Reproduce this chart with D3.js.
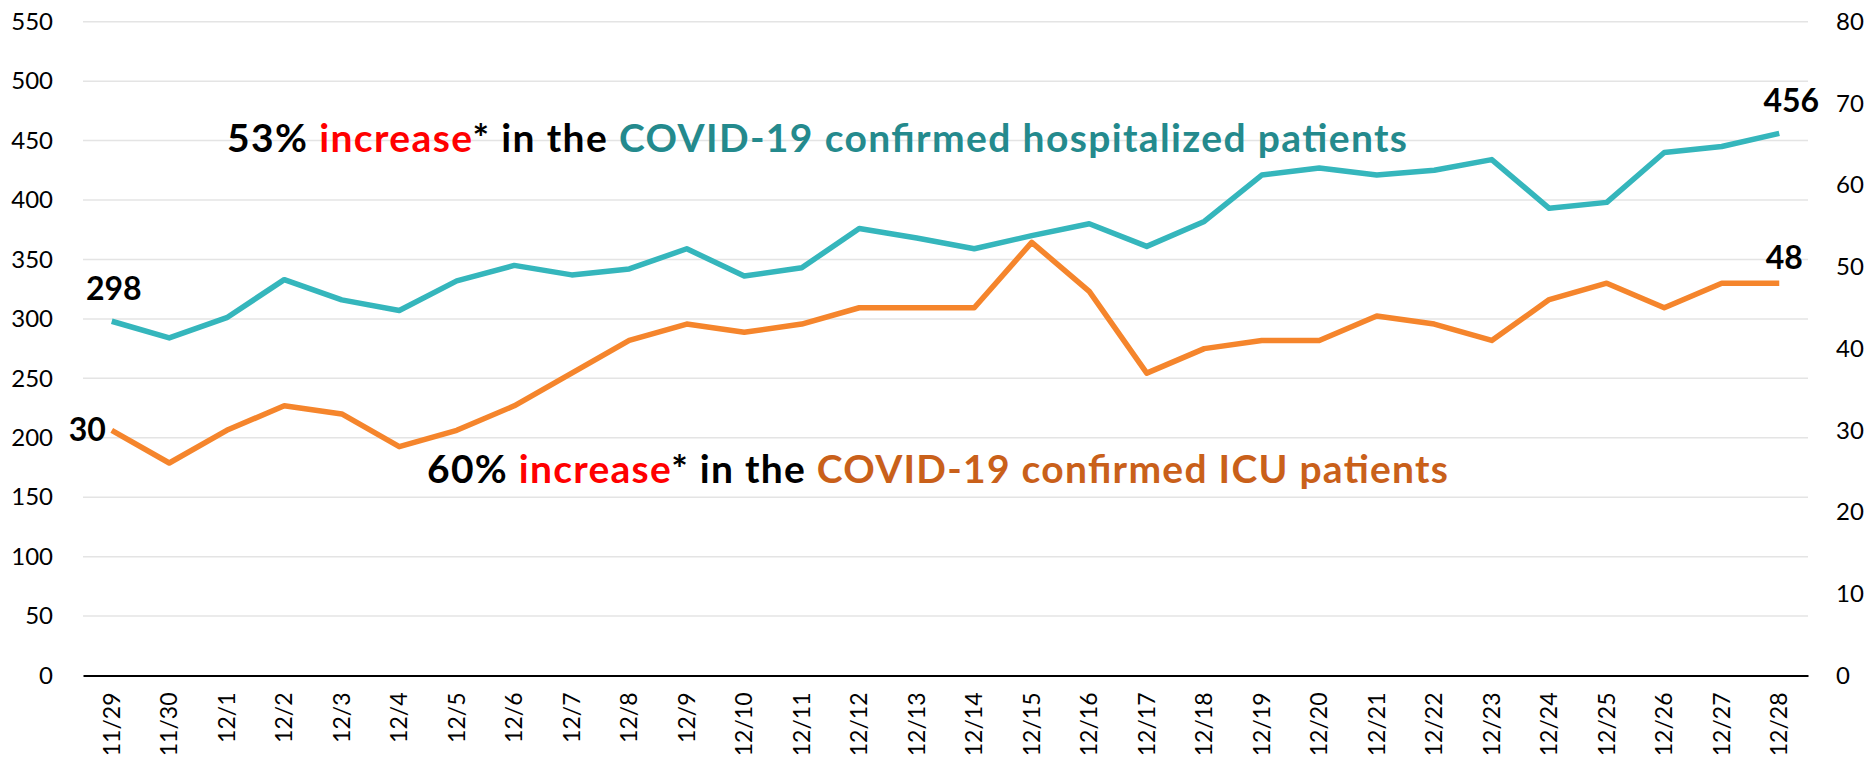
<!DOCTYPE html>
<html>
<head>
<meta charset="utf-8">
<script src="https://cdn.jsdelivr.net/npm/d3@7"></script>
<style>
  body { margin: 0; background: #fff; }
  svg { display: block; font-family: Lato, "Open Sans", sans-serif; }
</style>
</head>
<body>
<svg id="chart" width="1873" height="760"></svg>
<script>
// values
const dates = ["11/29","11/30","12/1","12/2","12/3","12/4","12/5","12/6","12/7","12/8",
  "12/9","12/10","12/11","12/12","12/13","12/14","12/15","12/16","12/17","12/18",
  "12/19","12/20","12/21","12/22","12/23","12/24","12/25","12/26","12/27","12/28"];
const hospitalized = [298,284,301,333,316,307,332,345,337,342,
  359,336,343,376,368,359,370,380,361,382,
  421,427,421,425,434,393,398,440,445,456];
const icu = [30,26,30,33,32,28,30,33,37,41,
  43,42,43,45,45,45,53,47,37,40,
  41,41,44,43,41,46,48,45,48,48];
const leftTicks = [0,50,100,150,200,250,300,350,400,450,500,550];
const rightTicks = [0,10,20,30,40,50,60,70,80];

const teal = "#35b6bc", orange = "#f5852c";
const tealText = "#248a8d", orangeText = "#c9601a";

const svg = d3.select("#chart");
const plotL = 83, plotR = 1808, plotT = 21.7, plotB = 675.5;

const x = d3.scaleBand().domain(dates).range([plotL, plotR]);
const yL = d3.scaleLinear().domain([0, 550]).range([plotB, plotT]);
const yR = d3.scaleLinear().domain([0, 80]).range([plotB, plotT]);
const cx = d => x(d) + x.bandwidth() / 2;

// gridlines
svg.append("g").selectAll("line").data(leftTicks.filter(t => t > 0)).join("line")
  .attr("x1", plotL).attr("x2", plotR)
  .attr("y1", d => yL(d)).attr("y2", d => yL(d))
  .attr("stroke", "#e4e4e4").attr("stroke-width", 1.5);

// left axis
const gl = svg.append("g").attr("transform", `translate(${plotL},0)`)
  .call(d3.axisLeft(yL).tickValues(leftTicks).tickSize(0).tickPadding(30));
gl.select(".domain").remove();
gl.selectAll("text").attr("font-size", 24).attr("font-family", "Lato").attr("fill", "#000");

// right axis
const gr = svg.append("g").attr("transform", `translate(${plotR},0)`)
  .call(d3.axisRight(yR).tickValues(rightTicks).tickSize(0).tickPadding(28));
gr.select(".domain").remove();
gr.selectAll("text").attr("font-size", 24).attr("font-family", "Lato").attr("fill", "#000");

// bottom axis
const gb = svg.append("g").attr("transform", `translate(0,${plotB})`)
  .call(d3.axisBottom(x).tickSize(0));
gb.select(".domain").attr("stroke", "#000").attr("stroke-width", 2);
gb.selectAll("text")
  .attr("font-size", 23).attr("font-family", "Lato").attr("fill", "#000")
  .attr("text-anchor", "end")
  .attr("transform", "translate(0,17) rotate(-90)")
  .attr("x", 0).attr("y", 0).attr("dy", "0.35em");

// lines
const lineH = d3.line().x((d, i) => cx(dates[i])).y(d => yL(d));
const lineI = d3.line().x((d, i) => cx(dates[i])).y(d => yR(d));
svg.append("path").datum(hospitalized).attr("d", lineH)
  .attr("fill", "none").attr("stroke", teal).attr("stroke-width", 5.5)
  .attr("stroke-linejoin", "round");
svg.append("path").datum(icu).attr("d", lineI)
  .attr("fill", "none").attr("stroke", orange).attr("stroke-width", 5.5)
  .attr("stroke-linejoin", "round");

// end labels
const last = dates.length - 1;
const labels = [
  {t: hospitalized[0], x: cx(dates[0]) + 2, y: yL(hospitalized[0]) - 21, a: "middle"},
  {t: hospitalized[last], x: cx(dates[last]) + 12, y: yL(hospitalized[last]) - 21, a: "middle"},
  {t: icu[0], x: cx(dates[0]) - 6, y: yR(icu[0]) + 11, a: "end"},
  {t: icu[last], x: cx(dates[last]) + 5, y: yR(icu[last]) - 14, a: "middle"}
];
svg.append("g").selectAll("text").data(labels).join("text")
  .attr("x", d => d.x).attr("y", d => d.y).attr("text-anchor", d => d.a)
  .attr("font-size", 32).attr("font-weight", "bold").text(d => d.t);

// annotations
function note(xPos, yPos, width, parts) {
  const t = svg.append("text").attr("x", xPos).attr("y", yPos)
    .attr("font-size", 39).attr("font-weight", "bold")
    .attr("textLength", width).attr("lengthAdjust", "spacing");
  parts.forEach(p => t.append("tspan").attr("fill", p[1]).text(p[0]));
}
note(227, 152, 1180, [["53% ", "#000"], ["increase", "#ff0000"], ["* in the ", "#000"],
  ["COVID-19 confirmed hospitalized patients", tealText]]);
note(427, 483, 1021, [["60% ", "#000"], ["increase", "#ff0000"], ["* in the ", "#000"],
  ["COVID-19 confirmed ICU patients", orangeText]]);
</script>
</body>
</html>
